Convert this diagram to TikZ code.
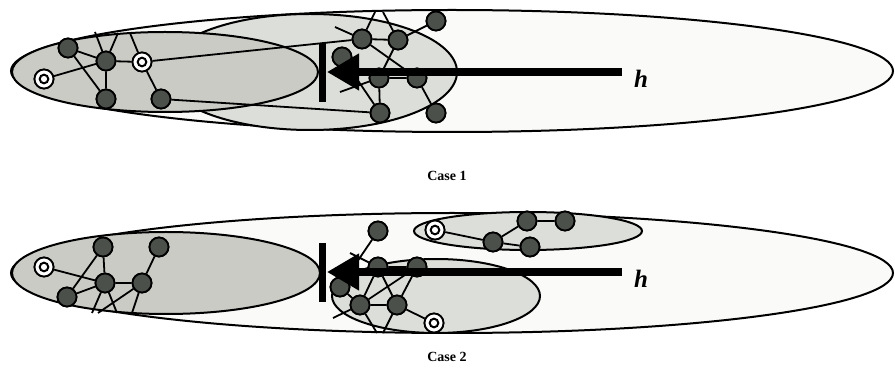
\documentclass[tikz,border=0pt]{standalone}
\usepackage{fontspec}
\setmainfont{Liberation Serif}
\usetikzlibrary{arrows.meta}
\definecolor{outerfill}{HTML}{FAFAF8}
\definecolor{midfill}{HTML}{DCDFD9}
\definecolor{darkfill}{HTML}{C9CBC4}
\definecolor{nodegray}{HTML}{4B504B}
\tikzset{
  nd/.style={circle, draw=black, line width=1.8pt, fill=nodegray, minimum size=19pt, inner sep=0pt},
  tg/.style={circle, draw=black, line width=1.8pt, fill=white, minimum size=19pt, inner sep=0pt,
    path picture={\draw[line width=2pt] (path picture bounding box.center) circle (4.3pt);}},
  ed/.style={line width=1.8pt},
  ell/.style={line width=2pt, draw=black},
  bigarrow/.style={line width=7.5pt, -{Triangle[length=32pt,width=35pt]}},
  bar/.style={line width=7pt},
  hlab/.style={font=\fontsize{25}{28}\selectfont\bfseries\itshape, inner sep=0pt},
  caselab/.style={font=\fontsize{14}{16}\selectfont\bfseries, inner sep=0pt}
}
\begin{document}
\begin{tikzpicture}[x=1pt,y=-1pt]
\useasboundingbox (0,0) rectangle (895,387);
% ---------------- Case 1 ----------------
\draw[ell, fill=outerfill] (452,71) ellipse [x radius=441, y radius=61];
\draw[ell, fill=midfill] (310,72) ellipse [x radius=147, y radius=58];
\draw[ell, fill=darkfill] (165,72) ellipse [x radius=153, y radius=40];
\node[tg] (T1) at (44,79) {};
\node[nd] (A) at (68,48) {};
\node[nd] (B) at (106,61) {};
\node[tg] (T2) at (142,62) {};
\node[nd] (C) at (106,99) {};
\node[nd] (D) at (161,99) {};
\node[nd] (E) at (362,39) {};
\node[nd] (F) at (398,40) {};
\node[nd] (G) at (436,21) {};
\node[nd] (H) at (342,57) {};
\node[nd] (I) at (379,78) {};
\node[nd] (J) at (417,78) {};
\node[nd] (K) at (380,113) {};
\node[nd] (L) at (436,113) {};
\coordinate (f1) at (95,32);
\coordinate (f2) at (118,33);
\coordinate (f3) at (130,33);
\coordinate (f4) at (335,27);
\coordinate (f5) at (375,12);
\coordinate (f6) at (383,12);
\coordinate (f7) at (340,92);
\draw[ed] (T1) -- (B) (A) -- (B) (A) -- (C) (B) -- (C) (B) -- (T2) (T2) -- (D)
  (B) -- (f1) (B) -- (f2) (T2) -- (f3) (T2) -- (E) (D) -- (K)
  (E) -- (F) (F) -- (G) (E) -- (f4) (E) -- (f5) (F) -- (f6)
  (E) -- (J) (F) -- (I) (I) -- (K) (J) -- (L) (H) -- (K) (I) -- (f7) (I) -- (J);
\foreach \n in {A,B,C,D,E,F,G,H,I,J,K,L} {\node[nd] at (\n) {};}
\foreach \n in {T1,T2} {\node[tg] at (\n) {};}
\coordinate (a1s) at (622,72);
\coordinate (a1t) at (327,72);
\coordinate (b1a) at (322,43);
\coordinate (b1b) at (322,102);
\draw[bar] (b1a) -- (b1b);
\draw[bigarrow] (a1s) -- (a1t);
\node[hlab] (h1) at (641,79) {h};
\node[caselab] (c1) at (447,176) {Case 1};
% ---------------- Case 2 ----------------
\draw[ell, fill=outerfill] (452,273) ellipse [x radius=441, y radius=60];
\draw[ell, fill=midfill] (528,231) ellipse [x radius=114, y radius=19];
\draw[ell, fill=midfill] (436,296) ellipse [x radius=104, y radius=37];
\draw[ell, fill=darkfill] (166,273) ellipse [x radius=154, y radius=41];
\node[tg] (T3) at (44,267) {};
\node[nd] (M) at (103,247) {};
\node[nd] (N) at (159,247) {};
\node[nd] (O) at (105,283) {};
\node[nd] (P) at (142,283) {};
\node[nd] (Q) at (67,297) {};
\coordinate (g1) at (92,313);
\coordinate (g2) at (117,313);
\coordinate (g3) at (98,313);
\coordinate (g4) at (132,313);
\node[tg] (T4) at (435,230) {};
\node[nd] (R) at (493,242) {};
\node[nd] (S) at (527,221) {};
\node[nd] (U) at (565,221) {};
\node[nd] (V) at (530,247) {};
\node[nd] (W) at (378,231) {};
\node[nd] (X) at (378,267) {};
\node[nd] (Y) at (417,267) {};
\node[nd] (Z) at (340,287) {};
\node[nd] (AA) at (360,305) {};
\node[nd] (AB) at (397,305) {};
\node[tg] (T5) at (434,323) {};
\coordinate (k1) at (350,253);
\coordinate (k2) at (333,318);
\coordinate (k3) at (377,333);
\coordinate (k4) at (383,333);
\draw[ed] (T3) -- (O) (M) -- (O) (M) -- (Q) (O) -- (P) (N) -- (P) (Q) -- (O)
  (O) -- (g1) (O) -- (g2) (P) -- (g3) (P) -- (g4)
  (T4) -- (R) (R) -- (S) (S) -- (U) (R) -- (V)
  (W) -- (Z) (k1) -- (X) (X) -- (Y) (X) -- (AA) (X) -- (AB) (Y) -- (AA) (Y) -- (AB)
  (Z) -- (AA) (AA) -- (AB) (AB) -- (T5) (AA) -- (k2) (AA) -- (k3) (AB) -- (k4);
\foreach \n in {M,N,O,P,Q,R,S,U,V,W,X,Y,Z,AA,AB} {\node[nd] at (\n) {};}
\foreach \n in {T3,T4,T5} {\node[tg] at (\n) {};}
\coordinate (a2s) at (622,272);
\coordinate (a2t) at (327,272);
\coordinate (b2a) at (322,243);
\coordinate (b2b) at (322,302);
\draw[bar] (b2a) -- (b2b);
\draw[bigarrow] (a2s) -- (a2t);
\node[hlab] (h2) at (641,279) {h};
\node[caselab] (c2) at (447,357) {Case 2};
\end{tikzpicture}
\end{document}
